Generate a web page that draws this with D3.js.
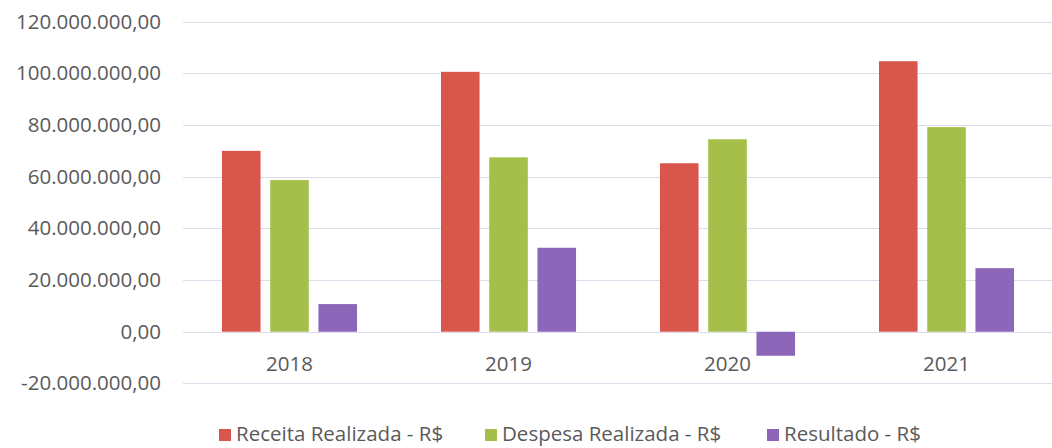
<!DOCTYPE html>
<html>
<head>
<meta charset="utf-8">
<script src="https://cdn.jsdelivr.net/npm/d3@7"></script>
<style>
  body { margin: 0; background: #fff; }
  svg { display: block; font-family: "Open Sans", sans-serif; }
</style>
</head>
<body>
<svg id="chart" width="1052" height="448"></svg>
<script>
// dados
const anos = ["2018", "2019", "2020", "2021"];
const series = ["Receita Realizada - R$", "Despesa Realizada - R$", "Resultado - R$"];
const receita = [70000000, 100600000, 65200000, 104700000];
const despesa = [58700000, 67500000, 74500000, 79200000];
const resultado = [10700000, 32500000, -9300000, 24600000];
const yTicks = [-20000000, 0, 20000000, 40000000, 60000000, 80000000, 100000000, 120000000];
const cores = ["#d9564d", "#a6bf4b", "#8b66b9"];

const valores = [receita, despesa, resultado];

const svg = d3.select("#chart");
const margin = { left: 180, right: 1056, top: 21.7, bottom: 383.4 };

const ptBR = d3.formatLocale({ decimal: ",", thousands: ".", grouping: [3], currency: ["R$", ""], minus: "-" });
const fmt = ptBR.format(",.2f");

const x0 = d3.scaleBand().domain(anos).range([margin.left, margin.right]).padding(0);
const x1 = d3.scaleBand()
  .domain(series)
  .range([0, x0.bandwidth()])
  .paddingInner(0.2)
  .paddingOuter(0.87);

const y = d3.scaleLinear()
  .domain([-20000000, 120000000])
  .range([margin.bottom, margin.top]);

// grade
svg.append("g")
  .selectAll("line")
  .data(yTicks)
  .join("line")
  .attr("x1", 183)
  .attr("x2", 1052)
  .attr("y1", d => Math.round(y(d)) + 0.5)
  .attr("y2", d => Math.round(y(d)) + 0.5)
  .attr("stroke", "#dcdcea")
  .attr("stroke-width", 1.2);

// eixo y
const yAxis = d3.axisLeft(y).tickValues(yTicks).tickFormat(fmt).tickSize(0).tickPadding(0);
const gy = svg.append("g")
  .attr("transform", "translate(161,0)")
  .call(yAxis);
gy.select(".domain").remove();
gy.selectAll("text")
  .attr("font-family", "Open Sans, sans-serif")
  .attr("font-size", 20.5)
  .attr("fill", "#5a5a5a");

// barras
const grupos = svg.append("g")
  .selectAll("g")
  .data(anos)
  .join("g")
  .attr("transform", d => `translate(${x0(d)},0)`);

grupos.selectAll("rect")
  .data((d, i) => series.map((s, k) => ({ s, k, v: valores[k][i] })))
  .join("rect")
  .attr("x", d => x1(d.s))
  .attr("width", x1.bandwidth())
  .attr("y", d => y(Math.max(0, d.v)))
  .attr("height", d => Math.abs(y(d.v) - y(0)))
  .attr("fill", d => cores[d.k]);

// rótulos dos anos
const xAxis = d3.axisBottom(x0).tickSize(0).tickPadding(0);
const gx = svg.append("g")
  .attr("transform", "translate(0,356)")
  .call(xAxis);
gx.select(".domain").remove();
gx.selectAll("text")
  .attr("font-family", "Open Sans, sans-serif")
  .attr("font-size", 20.5)
  .attr("fill", "#5a5a5a");

// legenda
const legX = [219, 485, 767];
const leg = svg.append("g")
  .selectAll("g")
  .data(series)
  .join("g")
  .attr("transform", (d, i) => `translate(${legX[i]},0)`);

leg.append("rect")
  .attr("x", 0)
  .attr("y", 429)
  .attr("width", 12)
  .attr("height", 12)
  .attr("fill", (d, i) => cores[i]);

leg.append("text")
  .attr("x", 17)
  .attr("y", 441)
  .attr("font-size", 20.5)
  .attr("fill", "#5a5a5a")
  .text(d => d);
</script>
</body>
</html>
